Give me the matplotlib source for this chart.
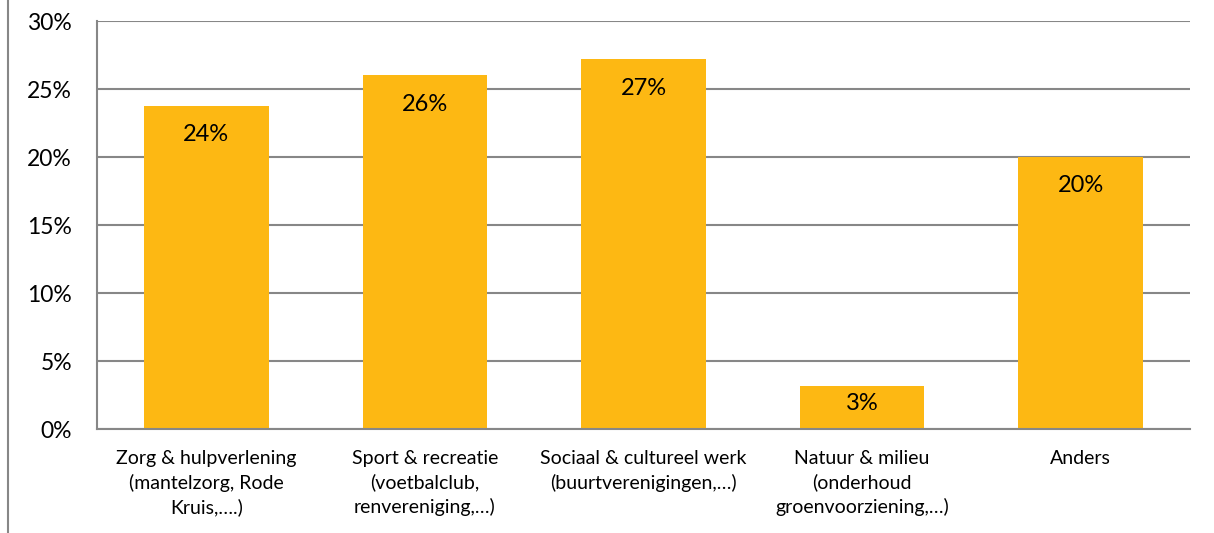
import matplotlib
matplotlib.use("Agg")
import matplotlib.pyplot as plt
from matplotlib.lines import Line2D

categories = [
    "Zorg & hulpverlening\n(mantelzorg, Rode\nKruis,….)",
    "Sport & recreatie\n(voetbalclub,\nrenvereniging,…)",
    "Sociaal & cultureel werk\n(buurtverenigingen,…)",
    "Natuur & milieu\n(onderhoud\ngroenvoorziening,…)",
    "Anders",
]
values = [23.75, 26.0, 27.2, 3.15, 20.0]
bar_labels = ["24%", "26%", "27%", "3%", "20%"]
yticks = [0, 5, 10, 15, 20, 25, 30]

plt.rcParams["font.family"] = ["Lato", "DejaVu Sans"]

fig = plt.figure(figsize=(12.14, 5.33), dpi=100)
ax = fig.add_axes([97 / 1214, 1 - 429 / 533, (1190 - 97) / 1214, (429 - 21) / 533])

x = range(len(categories))
ax.bar(x, values, width=0.57, color="#FDB813", zorder=2)
for i, (v, lab) in enumerate(zip(values, bar_labels)):
    # inside-end label, pulled towards the middle for short bars
    y = max(v - 2.13, v * 0.6)
    ax.text(i, y, lab, ha="center", va="center", fontsize=17, color="black", zorder=3)

ax.set_xlim(-0.5, len(categories) - 0.5)
ax.set_ylim(0, 30)
ax.set_yticks(yticks)
ax.set_yticklabels([f"{t}%" for t in yticks], fontsize=16.5)
ax.set_xticks(list(x))
ax.set_xticklabels(categories, fontsize=14, linespacing=1.45, va="top")
ax.tick_params(axis="both", length=0)
ax.tick_params(axis="y", pad=18)
ax.tick_params(axis="x", pad=15)
ax.grid(axis="y", color="#878787", linewidth=1.5, zorder=1)
for s in ["top", "right"]:
    ax.spines[s].set_visible(False)
for s in ["left", "bottom"]:
    ax.spines[s].set_color("#878787")
    ax.spines[s].set_linewidth(1.5)

fig.add_artist(Line2D([8 / 1214, 8 / 1214], [0, 1], color="#878787", linewidth=1.5))

fig.savefig("out.png", dpi=100)
